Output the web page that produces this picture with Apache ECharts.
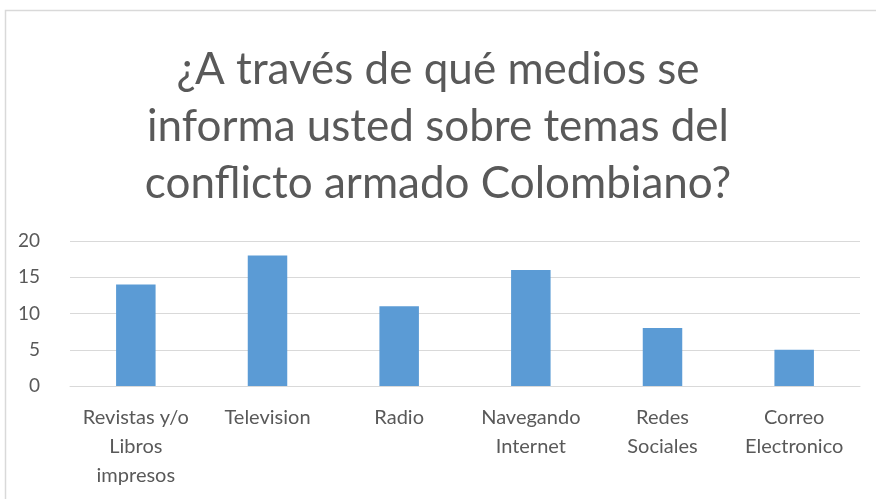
<!DOCTYPE html>
<html>
<head>
<meta charset="utf-8">
<script src="https://cdn.jsdelivr.net/npm/echarts@6/dist/echarts.min.js"></script>
<style>
  html, body { margin: 0; padding: 0; background: #fff; }
  #chart { width: 876px; height: 499px; }
</style>
</head>
<body>
<div id="chart"></div>
<script>
// categorias y valores
var categories = ['Revistas y/o\nLibros\nimpresos', 'Television', 'Radio', 'Navegando\nInternet', 'Redes\nSociales', 'Correo\nElectronico']
var values = [14, 18, 11, 16, 8, 5]
var yTicks = [0, 5, 10, 15, 20]

var titleText = '¿A través de qué medios se\ninforma usted sobre temas del\nconflicto armado Colombiano?'

var myChart = echarts.init(document.getElementById('chart'))
myChart.setOption({
  animation: false,
  graphic: [{
    type: 'rect',
    shape: { x: 5.5, y: 10.5, width: 900, height: 600 },
    style: { fill: 'none', stroke: '#d9d9d9', lineWidth: 1.5 }
  }],
  title: {
    text: titleText,
    left: 'center',
    top: 36,
    textStyle: {
      fontFamily: 'Lato',
      fontSize: 44,
      fontWeight: 'normal',
      color: '#595959',
      lineHeight: 57
    }
  },
  grid: { left: 70, right: 16, top: 241, bottom: 113 },
  xAxis: {
    type: 'category',
    data: categories,
    axisTick: { show: false },
    axisLine: { lineStyle: { color: '#d9d9d9' } },
    axisLabel: {
      interval: 0,
      color: '#595959',
      fontFamily: 'Lato',
      fontSize: 20,
      lineHeight: 29,
      margin: 17
    }
  },
  yAxis: {
    type: 'value',
    min: yTicks[0],
    max: yTicks[yTicks.length - 1],
    interval: 5,
    axisLine: { show: false },
    axisTick: { show: false },
    splitLine: { lineStyle: { color: '#d9d9d9' } },
    axisLabel: {
      color: '#595959',
      fontFamily: 'Lato',
      fontSize: 19,
      margin: 30
    }
  },
  series: [{
    type: 'bar',
    data: values,
    barWidth: '30%',
    itemStyle: { color: '#5b9bd5' }
  }]
})
</script>
</body>
</html>
